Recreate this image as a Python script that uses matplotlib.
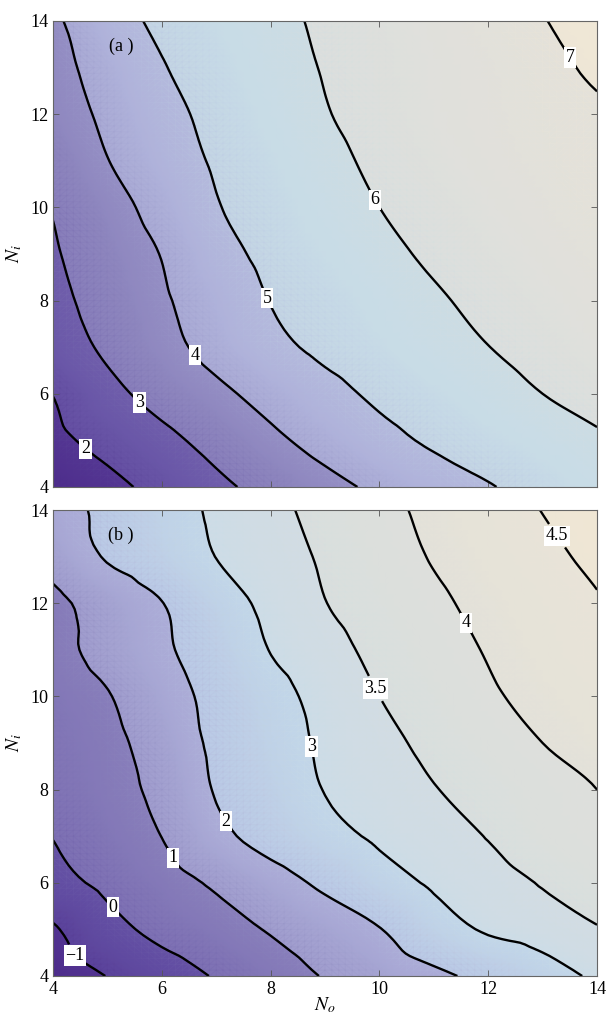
import numpy as np
import matplotlib
matplotlib.use("Agg")
import matplotlib.pyplot as plt
import matplotlib.tri as mtri
from matplotlib.colors import LinearSegmentedColormap

plt.rcParams['font.family'] = ['Liberation Serif', 'DejaVu Serif']
plt.rcParams['mathtext.fontset'] = 'stix'
plt.rcParams['contour.negative_linestyle'] = 'solid'

# grid: N_o along columns, N_i along rows
n_o = [4, 5, 6, 7, 8, 9, 10, 11, 12, 13, 14]
n_i = [4, 5, 6, 7, 8, 9, 10, 11, 12, 13, 14]

z_a = [
    [1.30, 1.75, 2.28, 2.81, 3.29, 3.74, 4.17, 4.56, 4.95, 5.30, 5.60],
    [1.78, 2.28, 2.77, 3.29, 3.82, 4.30, 4.75, 5.12, 5.38, 5.64, 5.90],
    [2.02, 2.75, 3.32, 3.81, 4.29, 4.75, 5.14, 5.43, 5.71, 6.00, 6.25],
    [2.56, 3.14, 3.73, 4.27, 4.79, 5.16, 5.44, 5.72, 5.99, 6.25, 6.50],
    [2.78, 3.33, 3.89, 4.46, 5.02, 5.31, 5.61, 5.91, 6.18, 6.42, 6.65],
    [2.92, 3.47, 4.03, 4.71, 5.19, 5.50, 5.82, 6.11, 6.35, 6.56, 6.75],
    [3.05, 3.67, 4.30, 4.95, 5.32, 5.66, 6.00, 6.25, 6.48, 6.68, 6.85],
    [3.30, 3.98, 4.56, 5.09, 5.45, 5.81, 6.14, 6.40, 6.60, 6.76, 6.90],
    [3.58, 4.16, 4.74, 5.21, 5.59, 5.96, 6.25, 6.48, 6.65, 6.80, 6.93],
    [3.73, 4.34, 4.95, 5.34, 5.71, 6.04, 6.30, 6.50, 6.68, 6.86, 7.09],
    [3.86, 4.62, 5.16, 5.49, 5.82, 6.10, 6.34, 6.56, 6.77, 6.98, 7.20],
]

z_b = [
    [-1.50, -0.98, -0.45, 0.07, 0.57, 1.05, 1.43, 1.82, 2.23, 2.67, 3.10],
    [-1.09, -0.31, 0.25, 0.66, 1.07, 1.52, 1.97, 2.63, 3.08, 3.28, 3.47],
    [-0.26, 0.19, 0.65, 1.12, 1.64, 2.16, 2.68, 3.09, 3.31, 3.53, 3.73],
    [0.02, 0.50, 1.01, 1.78, 2.32, 2.77, 3.10, 3.31, 3.52, 3.77, 3.96],
    [0.30, 0.70, 1.22, 2.06, 2.55, 3.02, 3.25, 3.48, 3.66, 3.84, 4.00],
    [0.40, 0.78, 1.39, 2.17, 2.67, 3.10, 3.37, 3.61, 3.80, 4.00, 4.18],
    [0.50, 0.95, 1.62, 2.24, 2.78, 3.18, 3.50, 3.72, 3.94, 4.13, 4.30],
    [0.73, 1.29, 1.86, 2.44, 3.02, 3.34, 3.61, 3.82, 4.03, 4.23, 4.42],
    [0.78, 1.41, 1.98, 2.65, 3.16, 3.49, 3.71, 3.92, 4.12, 4.29, 4.47],
    [1.35, 2.07, 2.54, 3.01, 3.29, 3.56, 3.80, 4.03, 4.22, 4.40, 4.59],
    [1.67, 2.17, 2.67, 3.10, 3.38, 3.64, 3.88, 4.10, 4.30, 4.51, 4.70],
]

levels_a = [2, 3, 4, 5, 6, 7]
levels_b = [-1, 0, 1, 2, 3, 3.5, 4, 4.5]

# one colour per band (below first level ... above last level)
band_colors_a = ["#50308f", "#6a56a8", "#9088c0", "#b0b2da", "#c8dce6", "#e0e0dc", "#efe7d6"]
band_colors_b = ["#50308f", "#5e48a0", "#8478b8", "#a8a6d4", "#bed2ea", "#d0dce6",
                 "#dcdfdc", "#e6e3d8", "#efe6d4"]

label_pos_a = [(4.55, 4.75), (5.58, 5.8), (6.61, 6.83), (7.86, 8.01), (9.94, 10.18), (13.43, 13.16)]
label_pos_b = [(4.46, 4.49), (4.96, 5.31), (6.11, 6.47), (7.13, 7.28), (8.6, 8.89),
               (9.88, 10.14), (11.59, 11.58), (13.23, 13.42)]

lake = LinearSegmentedColormap.from_list("lake", [
    (0.00, "#4a2888"),
    (0.20, "#6a58a8"),
    (0.37, "#8a82bc"),
    (0.54, "#b0b4dc"),
    (0.71, "#c8dce8"),
    (0.88, "#e0e0dc"),
    (1.00, "#f2e8d6"),
])


def fmt(v):
    return ("%g" % v).replace("-", "\u2212")


def panel(ax, z, levels, band_colors, label_pos, tag):
    X, Y = np.meshgrid(n_o, n_i)
    Z = np.array(z)
    # smooth the coarse grid with matplotlib's cubic tri interpolator
    tri = mtri.Triangulation(X.ravel(), Y.ravel())
    interp = mtri.CubicTriInterpolator(tri, Z.ravel(), kind='geom')
    refiner = mtri.UniformTriRefiner(tri)
    tri_f, z_f = refiner.refine_field(Z.ravel(), triinterpolator=interp, subdiv=3)
    edges = [z_f.min() - 1] + list(levels) + [z_f.max() + 1]
    ax.tricontourf(tri_f, z_f, levels=edges, colors=band_colors)
    ax.tripcolor(tri_f, z_f, shading='gouraud', cmap=lake,
                 vmin=Z.min(), vmax=Z.max(), alpha=0.35)
    cs = ax.tricontour(tri_f, z_f, levels=levels, colors='black', linewidths=1.7)
    txts = ax.clabel(cs, fmt=fmt, inline=True, fontsize=13, manual=label_pos, inline_spacing=3)
    for t in txts:
        t.set_rotation(0)
        t.set_bbox(dict(facecolor='white', edgecolor='none', pad=1.2))
    ax.set_xlim(4, 14)
    ax.set_ylim(4, 14)
    ax.set_xticks([4, 6, 8, 10, 12, 14])
    ax.set_yticks([4, 6, 8, 10, 12, 14])
    ax.tick_params(direction='in', length=4, width=0.6, color='#555555',
                   top=True, right=True, labelsize=13)
    for s in ax.spines.values():
        s.set_color('#666666')
        s.set_linewidth(0.8)
    ax.set_ylabel('$N_i$', fontsize=14, labelpad=4)
    ax.text(5.25, 13.45, tag, fontsize=13, ha='center', va='center')


fig = plt.figure(figsize=(6.06, 10.19), dpi=100)
ax1 = fig.add_axes([0.0875, 0.5221, 0.8977, 0.4573])
ax2 = fig.add_axes([0.0875, 0.0422, 0.8977, 0.4573])

panel(ax1, z_a, levels_a, band_colors_a, label_pos_a, '(a )')
panel(ax2, z_b, levels_b, band_colors_b, label_pos_b, '(b )')
ax1.set_xticklabels([])
ax2.set_xlabel('$N_o$', fontsize=14, labelpad=-2)

fig.savefig("out.png", dpi=100)
